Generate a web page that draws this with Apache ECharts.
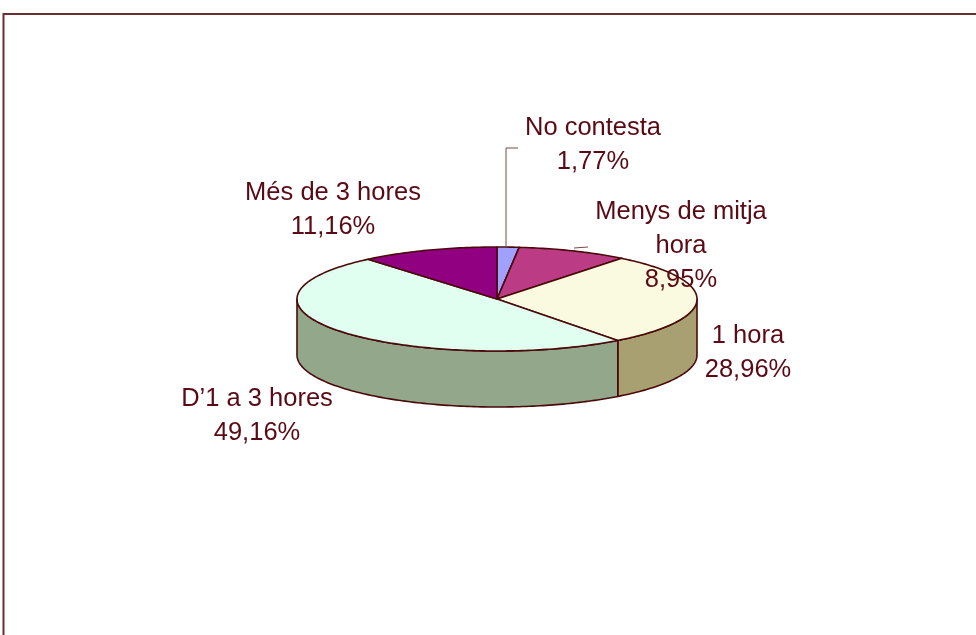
<!DOCTYPE html>
<html>
<head>
<meta charset="utf-8">
<script src="https://cdn.jsdelivr.net/npm/echarts@6/dist/echarts.min.js"></script>
<style>
html,body{margin:0;padding:0;background:#fff;}
#chart{width:976px;height:635px;}
</style>
</head>
<body>
<div id="chart"></div>
<script>
// ---- data ----
var categories = ['No contesta', 'Menys de mitja\nhora', '1 hora', 'D\u20191 a 3 hores', 'M\u00e9s de 3 hores'];
var values = [1.77, 8.95, 28.96, 49.16, 11.16];

// ---- styles / layout (kept apart from the data) ----
var topColors = ['#a0a0ff', '#bb3c84', '#fafae0', '#e0fff0', '#900080'];
var sideColors = ['#7878c0', '#8c2c62', '#a8a070', '#93a78a', '#6c0060'];
var labelAnchors = [[593, 145.3], [681, 246.3], [748, 352.8], [257, 416.3], [333, 209.8]];
var leaderLines = [
  [[506, 247], [506, 148], [518, 148]],
  [[574, 248], [588, 247]],
  null, null, null
];
var geom = {cx: 497, cy: 299, rx: 200, ry: 52, depth: 56};
var outline = '#4a0a0a';
var textColor = '#5a0a14';

var total = values.reduce(function (a, b) { return a + b; }, 0);
var starts = [];
(function () { var acc = 0; for (var i = 0; i < values.length; i++) { starts.push(acc); acc += values[i]; } })();

function pt(theta, dy) {
  var r = theta * Math.PI / 180;
  return [geom.cx + geom.rx * Math.sin(r), geom.cy - geom.ry * Math.cos(r) + (dy || 0)];
}
function arc(a, b, dy) {
  var pts = [];
  var n = Math.max(2, Math.ceil(Math.abs(b - a)));
  for (var k = 0; k <= n; k++) pts.push(pt(a + (b - a) * k / n, dy));
  return pts;
}
function fmt(v) { return v.toFixed(2).replace('.', ',') + '%'; }

function renderItem(params, api) {
  var i = params.dataIndex;
  var v = api.value(0);
  var a = starts[i] / total * 360;
  var b = a + v / total * 360;
  var children = [];
  // visible side (front half: 90..270 deg clockwise from top)
  var sa = Math.max(a, 90), sb = Math.min(b, 270);
  if (sb > sa) {
    var topArc = arc(sa, sb, 0);
    var botArc = arc(sb, sa, geom.depth);
    children.push({
      type: 'polygon', z2: 1,
      shape: {points: topArc.concat(botArc)},
      style: {fill: sideColors[i], stroke: outline, lineWidth: 1.6, lineJoin: 'round'}
    });
  }
  // top face
  children.push({
    type: 'polygon', z2: 2,
    shape: {points: [[geom.cx, geom.cy]].concat(arc(a, b, 0))},
    style: {fill: topColors[i], stroke: outline, lineWidth: 1.6, lineJoin: 'round'}
  });
  // leader line
  if (leaderLines[i]) {
    children.push({
      type: 'polyline', z2: 3,
      shape: {points: leaderLines[i]},
      style: {stroke: '#7a4848', lineWidth: 1, fill: null}
    });
  }
  // label
  children.push({
    type: 'text', z2: 4,
    x: labelAnchors[i][0], y: labelAnchors[i][1],
    style: {
      text: categories[i] + '\n' + fmt(v),
      fill: textColor,
      font: '25.5px "Liberation Sans", Arial, sans-serif',
      lineHeight: 34,
      align: 'center',
      verticalAlign: 'middle'
    }
  });
  return {type: 'group', children: children};
}

var chart = echarts.init(document.getElementById('chart'), null, {renderer: 'canvas'});
chart.setOption({
  backgroundColor: '#ffffff',
  animation: false,
  graphic: [{
    type: 'rect',
    shape: {x: 3.5, y: 14, width: 1100, height: 800},
    style: {fill: null, stroke: '#6a2e2e', lineWidth: 2},
    z: 0
  }],
  series: [{
    type: 'custom',
    coordinateSystem: 'none',
    renderItem: renderItem,
    data: values.map(function (v, i) { return {name: categories[i], value: [v]}; })
  }]
});
</script>
</body>
</html>
